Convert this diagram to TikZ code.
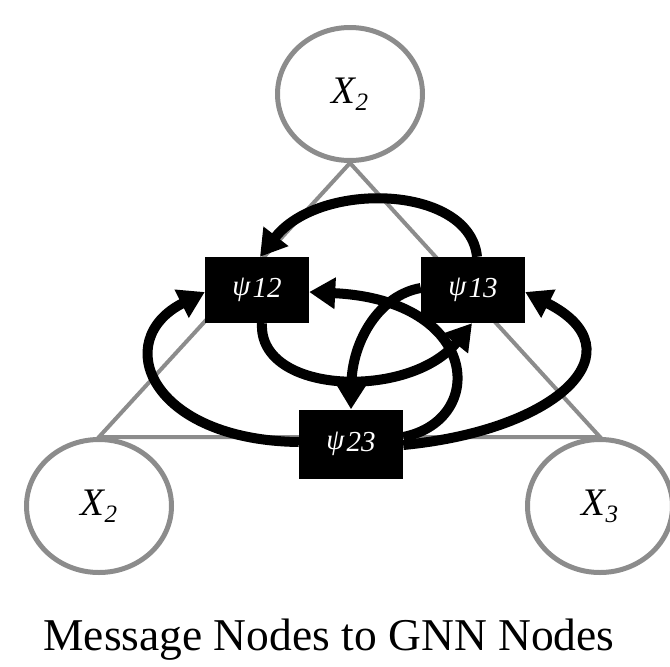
\documentclass[tikz,border=0pt]{standalone}
\usepackage{fontspec}
\setmainfont{Liberation Serif}
\usetikzlibrary{shapes.geometric, arrows.meta, calc}
\definecolor{ringgray}{HTML}{8C8C8C}
\tikzset{
  varnode/.style={draw=ringgray, line width=5pt, ellipse, inner sep=0pt,
    minimum width=145pt, minimum height=133pt,
    font=\fontsize{39}{40}\selectfont\itshape},
  factor/.style={fill=black, text=white, inner sep=0pt,
    minimum width=104pt, minimum height=66pt,
    font=\fontsize{29}{30}\selectfont\itshape},
  graphedge/.style={draw=ringgray, line width=4pt},
  msg/.style={line width=10pt, -{Triangle[length=26pt,width=30pt]}},
}
\newcommand{\varlabel}[2]{#1\raisebox{-7pt}{\fontsize{25}{26}\selectfont #2}}
\newcommand{\psilabel}[1]{ψ\kern2pt\raisebox{-2pt}{#1}}

\begin{document}
\begin{tikzpicture}[x=1pt, y=-1pt]
\useasboundingbox (0,0) rectangle (670,667);

% variable nodes and the graph between them
\node[varnode] (xtop)   at (350,94)  {\varlabel{X}{2}};
\node[varnode] (xleft)  at (99,506)  {\varlabel{X}{2}};
\node[varnode] (xright) at (600,506) {\varlabel{X}{3}};
\draw[graphedge] (xtop.south) -- (xleft.north) -- (xright.north) -- cycle;

% message (factor) nodes
\node[factor] (p12) at (257,290) {\psilabel{12}};
\node[factor] (p13) at (473,290) {\psilabel{13}};
\node[factor, minimum height=69pt] (p23) at (351,444) {\psilabel{23}};

% messages passed between factor nodes
\draw[msg] ($(p13.north)+(4,0)$) .. controls (470,185) and (320,180) .. ($(p12.north)+(3,0)$);
\draw[msg] ($(p23.west)+(0,-2)$) .. controls (150,440) and (110,340) .. ($(p12.west)+(0,2)$);
\draw[msg] ($(p23.east)+(0,1)$) .. controls (560,430) and (640,350) .. ($(p13.east)+(0,2)$);
\draw[msg] ($(p12.south)+(5,0)$) .. controls (258,395) and (410,400) .. ($(p13.south)+(-1,0)$);
\draw[msg] ($(p23.east)+(0,-7)$) .. controls (488,420) and (480,300) .. ($(p12.east)+(0,2)$);
\draw[msg] ($(p13.west)+(0,-2)$) .. controls (380,295) and (352,340) .. (p23.north);

% caption
\node[font=\fontsize{45.5}{50}\selectfont, anchor=base] (caption) at (329,650) {Message Nodes to GNN Nodes};
\end{tikzpicture}
\end{document}
